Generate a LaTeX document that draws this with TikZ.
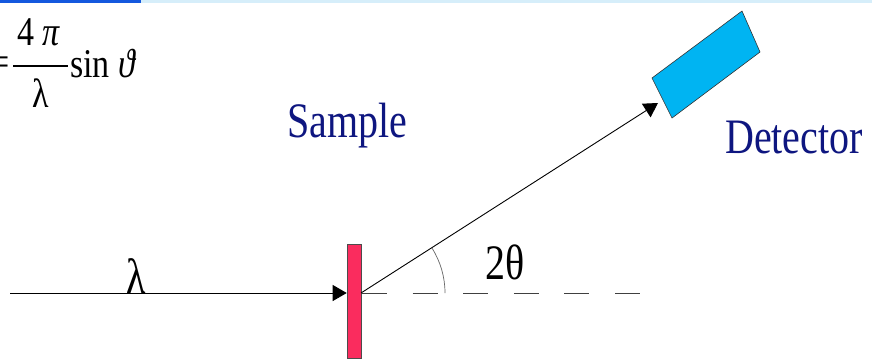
\documentclass[tikz,border=0pt]{standalone}
\usepackage{fontspec}
\setmainfont{Liberation Serif}
\usetikzlibrary{arrows.meta}

\definecolor{bandblue}{RGB}{20,88,222}
\definecolor{bandpale}{RGB}{214,238,250}
\definecolor{titlenavy}{RGB}{14,22,128}
\definecolor{samplered}{RGB}{250,44,94}
\definecolor{detblue}{RGB}{0,180,242}

\begin{document}
\begin{tikzpicture}[x=1pt, y=-1pt, >={Triangle[length=14pt,width=16pt]},
  beam/.style={->, line width=0.9pt},
  bigtext/.style={font=\fontsize{40}{40}\selectfont, inner sep=0pt, yscale=1.24},
  formtext/.style={font=\fontsize{34}{34}\selectfont, inner sep=0pt, yscale=1.2}]
  \useasboundingbox (0,0) rectangle (872,359);
  \clip (0,0) rectangle (872,359);
  % band along the top edge
  \fill[bandpale] (140,0) rectangle (872,2.5);
  \fill[bandblue] (0,0) rectangle (141,2.5);
  % q = 4 pi / lambda sin theta, cut at the left edge
  \node[formtext, anchor=east] (eq) at (10,66) {=};
  \node[formtext, anchor=base] (num) at (39,45) {4 \textit{π}};
  \draw[line width=2pt] (13,66) -- (68,66);
  \node[formtext, anchor=north] (den) at (41,79) {λ};
  \node[formtext, anchor=base west] (sinfn) at (70,77) {sin \textit{ϑ}};
  % sample and incoming beam
  \node[draw=black!70, fill=samplered, line width=0.6pt, minimum width=14pt,
        minimum height=114pt, inner sep=0pt] (sample) at (354,301) {};
  \coordinate (src) at (10,293);
  \coordinate (hit) at (361,293);
  \draw[beam] (src) -- (src -| sample.west);
  \node[bigtext, anchor=base] (wavelen) at (136,293) {λ};
  \node[bigtext, anchor=base west, text=titlenavy] (samplename) at (287,137) {Sample};
  % detector
  \coordinate (d1) at (652,78);
  \coordinate (d2) at (742,11);
  \coordinate (d3) at (760,52);
  \coordinate (d4) at (672,118);
  \coordinate (detin) at (658,103);
  \filldraw[fill=detblue, draw=black!80, line width=0.6pt] (d1) -- (d2) -- (d3) -- (d4) -- cycle;
  \node[bigtext, anchor=base west, text=titlenavy] (detname) at (725,153) {Detector};
  % scattered beam, straight-through line and the angle
  \draw[beam] (hit) -- (detin);
  \draw[black!75, line width=0.9pt, dash pattern=on 25pt off 25.6pt] (362,293) -- (640,293);
  \draw[black!60, line width=0.7pt] (445,293) arc[start angle=0, end angle=32.5, radius=84pt];
  \node[bigtext, anchor=base west] (twotheta) at (485,279) {2θ};
\end{tikzpicture}
\end{document}
